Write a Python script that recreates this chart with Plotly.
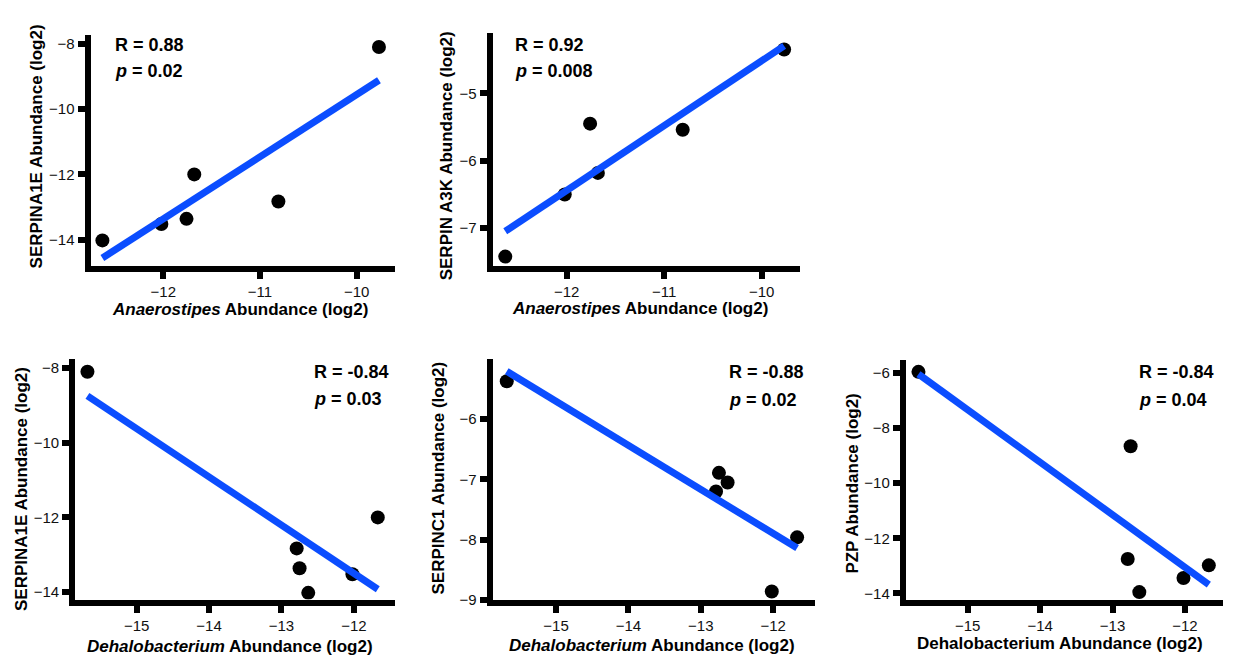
import numpy as np
import plotly.graph_objects as go

W, H = 1233, 665

# ---------------- data ----------------
anaero_x = [-12.63, -12.02, -11.76, -11.68, -10.81, -9.77]
serpina1e_vs_anaero = [-14.02, -13.52, -13.36, -12.00, -12.83, -8.10]
serpina3k_vs_anaero = [-7.42, -6.50, -5.45, -6.18, -5.54, -4.35]

dehalo_x = [-15.68, -12.79, -12.75, -12.63, -12.02, -11.67]
serpina1e_vs_dehalo = [-8.10, -12.83, -13.36, -14.02, -13.52, -12.00]
serpinc1_vs_dehalo = [-5.37, -7.20, -6.89, -7.05, -8.86, -7.96]
pzp_vs_dehalo = [-5.96, -12.75, -8.66, -13.95, -13.44, -12.98]

r_labels = ["R = 0.88", "R = 0.92", "R = -0.84", "R = -0.88", "R = -0.84"]
p_labels = ["0.02", "0.008", "0.03", "0.02", "0.04"]

y_titles = ["SERPINA1E Abundance (log2)", "SERPIN A3K Abundance (log2)",
            "SERPINA1E Abundance (log2)", "SERPINC1 Abundance (log2)",
            "PZP Abundance (log2)"]
x_titles = ["<i>Anaerostipes</i> Abundance (log2)", "<i>Anaerostipes</i> Abundance (log2)",
            "<i>Dehalobacterium</i> Abundance (log2)", "<i>Dehalobacterium</i> Abundance (log2)",
            "Dehalobacterium Abundance (log2)"]

x_tickvals = [[-12, -11, -10], [-12, -11, -10], [-15, -14, -13, -12],
              [-15, -14, -13, -12], [-15, -14, -13, -12]]
y_tickvals = [[-14, -12, -10, -8], [-7, -6, -5], [-14, -12, -10, -8],
              [-9, -8, -7, -6], [-14, -12, -10, -8, -6]]

panels_x = [anaero_x, anaero_x, dehalo_x, dehalo_x, dehalo_x]
panels_y = [serpina1e_vs_anaero, serpina3k_vs_anaero, serpina1e_vs_dehalo,
            serpinc1_vs_dehalo, pzp_vs_dehalo]

# ---------------- layout geometry (pixels) ----------------
# domain boxes: (left, right, top, bottom) in px
boxes = [(90.5, 395, 35, 269.5),
         (492.5, 800, 33.3, 269.2),
         (75.2, 395, 363.3, 606.8),
         (492.5, 815, 363.3, 607.5),
         (905.8, 1223.3, 364.3, 606.8)]
x_ranges = [[-12.753, -9.604], [-12.761, -9.607], [-15.849, -11.432],
            [-15.877, -11.423], [-15.855, -11.470]]
y_ranges = [[-14.812, -7.718], [-7.559, -4.105], [-14.198, -7.757],
            [-9.003, -5.0], [-14.219, -5.527]]

# annotation anchors (px)
stat_pos = [(113, 45.7, 71.7), (513.3, 45.7, 71.7), (311.7, 376.7, 404),
            (727.3, 376.7, 405), (1136.7, 376.7, 405)]
ytitle_pos = [(36.7, 148.5), (446.7, 157.5), (21.0, 495), (438.3, 484), (852.5, 489)]
xtitle_pos = [(240, 313), (640, 312), (230, 654), (652, 653), (1060, 651)]

FONT = "Arial, Liberation Sans, sans-serif"
BLUE = "#0B4DFF"

fig = go.Figure()
annotations = []

for i in range(5):
    n = "" if i == 0 else str(i + 1)
    xa, ya = "x" + n, "y" + n
    xs = np.array(panels_x[i])
    ys = np.array(panels_y[i])
    fig.add_trace(go.Scatter(x=xs, y=ys, mode="markers", xaxis=xa, yaxis=ya,
                             marker=dict(color="black", size=14), showlegend=False))
    k, b = np.polyfit(xs, ys, 1)
    lx = np.array([xs.min(), xs.max()])
    fig.add_trace(go.Scatter(x=lx, y=k * lx + b, mode="lines", xaxis=xa, yaxis=ya,
                             line=dict(color=BLUE, width=7), showlegend=False))

    l, r, t, bt = boxes[i]
    axis_common = dict(showline=True, linewidth=6, linecolor="black", ticks="outside",
                       ticklen=7, tickwidth=6, tickcolor="black", showgrid=False,
                       zeroline=False, tickfont=dict(family=FONT, size=15, color="#111"),
                       tickmode="array")
    fig.layout["xaxis" + n] = dict(domain=[l / W, r / W], range=x_ranges[i], anchor=ya,
                                   tickvals=x_tickvals[i], **axis_common)
    fig.layout["yaxis" + n] = dict(domain=[1 - bt / H, 1 - t / H], range=y_ranges[i],
                                   anchor=xa, tickvals=y_tickvals[i], **axis_common)

    sx, ry, py = stat_pos[i]
    annotations.append(dict(x=sx / W, y=1 - ry / H, xref="paper", yref="paper",
                            text="<b>" + r_labels[i] + "</b>", showarrow=False,
                            xanchor="left", yanchor="middle",
                            font=dict(family=FONT, size=18, color="black")))
    annotations.append(dict(x=sx / W, y=1 - py / H, xref="paper", yref="paper",
                            text="<b><i>p</i> = " + p_labels[i] + "</b>", showarrow=False,
                            xanchor="left", yanchor="middle",
                            font=dict(family=FONT, size=18, color="black")))
    tx, ty = ytitle_pos[i]
    annotations.append(dict(x=tx / W, y=1 - ty / H, xref="paper", yref="paper",
                            text="<b>" + y_titles[i] + "</b>", showarrow=False,
                            textangle=-90, xanchor="center", yanchor="middle",
                            font=dict(family=FONT, size=17, color="black")))
    gx, gy = xtitle_pos[i]
    annotations.append(dict(x=gx / W, y=1 - gy / H, xref="paper", yref="paper",
                            text="<b>" + x_titles[i] + "</b>", showarrow=False,
                            xanchor="center", yanchor="middle", borderpad=0,
                            font=dict(family=FONT, size=17, color="black")))

fig.update_layout(width=W, height=H, margin=dict(l=0, r=0, t=0, b=0),
                  paper_bgcolor="white", plot_bgcolor="white",
                  annotations=annotations, showlegend=False,
                  font=dict(family=FONT))

fig.write_html("out.html", config={"displayModeBar": False},
               post_script="document.body.style.margin='0';document.body.style.padding='0';"
                           "document.body.style.overflow='hidden';")
